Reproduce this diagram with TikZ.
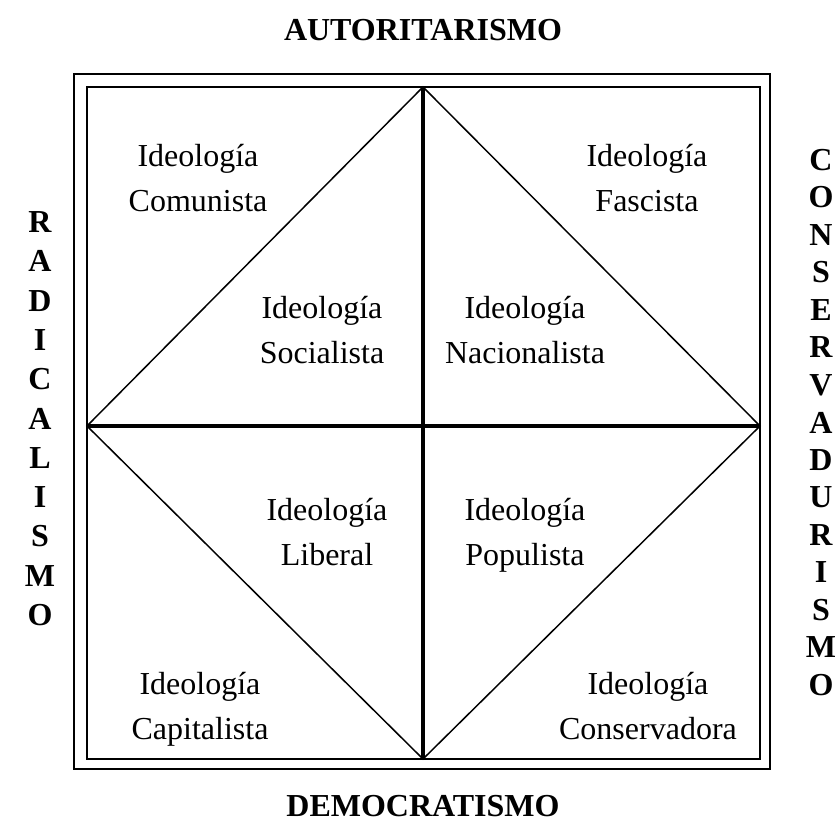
\documentclass[tikz,border=0pt]{standalone}
\usepackage{fontspec}
\setmainfont{Liberation Serif}
\begin{document}
\begin{tikzpicture}[x=0.5pt,y=-0.5pt,
  marco/.style={line width=0.75pt},
  eje/.style={line width=1.8pt},
  ideo/.style={align=center,anchor=base,font=\fontsize{16}{22.5}\selectfont},
  polo/.style={font=\fontsize{16}{19}\selectfont\bfseries}]
\def\xmin{87}
\def\xmax{760}
\def\ymin{87}
\def\ymax{759}
\def\xc{423}
\def\yc{426}
\useasboundingbox (0,0) rectangle (835,833);
% marco doble
\draw[marco] (74,74) rectangle (770,769);
\draw[marco] (\xmin,\ymin) rectangle (\xmax,\ymax);
% rombo y ejes
\coordinate (N) at (\xc,\ymin);
\coordinate (S) at (\xc,\ymax);
\coordinate (O) at (\xmin,\yc);
\coordinate (E) at (\xmax,\yc);
\draw[marco] (N)--(E)--(S)--(O)--cycle;
\draw[eje] (N)--(S) (O)--(E);

% base = linea de abajo
\node[ideo] (comunista) at (198,212) {Ideología\\Comunista};
\node[ideo] (fascista) at (647,212) {Ideología\\Fascista};
\node[ideo] (socialista) at (322,364) {Ideología\\Socialista};
\node[ideo] (nacionalista) at (525,364) {Ideología\\Nacionalista};
\node[ideo] (liberal) at (327,566) {Ideología\\Liberal};
\node[ideo] (populista) at (525,566) {Ideología\\Populista};
\node[ideo] (capitalista) at (200,739) {Ideología\\Capitalista};
\node[ideo] (conservadora) at (648,739) {Ideología\\Conservadora};

% polos
\node[polo,anchor=base] (autoritarismo) at (\xc,41) {AUTORITARISMO};
\node[polo,anchor=base] (democratismo) at (\xc,816) {DEMOCRATISMO};
\foreach \l [count=\i from 0] in {R,A,D,I,C,A,L,I,S,M,O}
  \node[polo] (rad\i) at (40,222+39.3*\i) {\l};
\foreach \l [count=\i from 0] in {C,O,N,S,E,R,V,A,D,U,R,I,S,M,O}
  \node[polo] (con\i) at (821,160+37.5*\i) {\l};
\end{tikzpicture}
\end{document}
